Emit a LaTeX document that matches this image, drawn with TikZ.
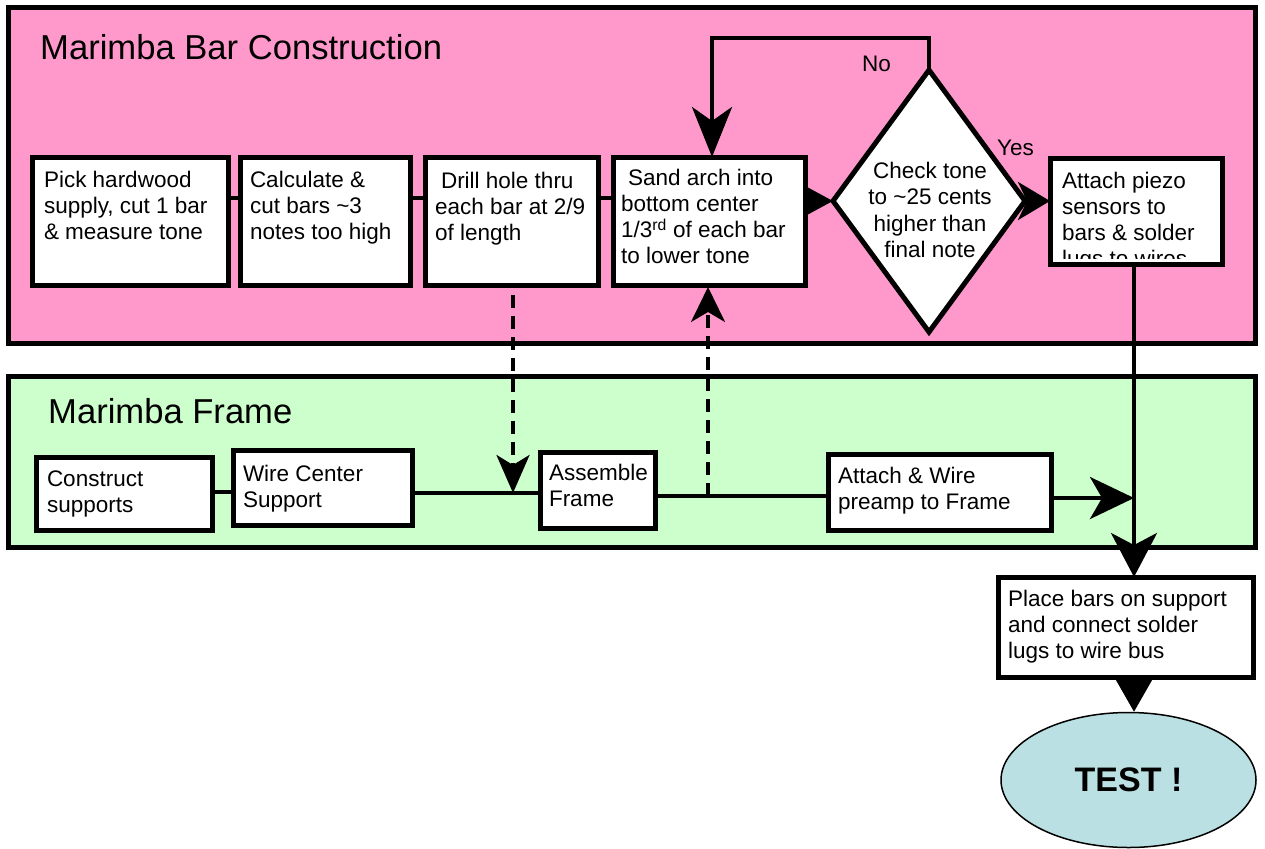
\documentclass[tikz,border=0pt]{standalone}
\usepackage{fontspec}
\setmainfont{Liberation Sans}
\usetikzlibrary{arrows.meta,shapes.geometric,calc}
\definecolor{pinkbg}{RGB}{255,153,204}
\definecolor{greenbg}{RGB}{204,255,204}
\definecolor{testblue}{RGB}{187,224,227}
\newcommand{\boxfont}{\fontsize{22.5}{26.3}\selectfont}
\newcommand{\titlefont}{\fontsize{34.6}{40}\selectfont}
% pad, box width, box height, first-baseline offset, text
\newcommand{\tb}[5]{\hspace*{#1pt}\parbox[c][#3pt][t]{\dimexpr #2pt-#1pt\relax}{\raggedright\rule{0pt}{#4pt}#5}}
\tikzset{
  stepbox/.style={draw, line width=5pt, fill=white, inner sep=0pt, outer sep=0pt, font=\boxfont},
  panel/.style={draw, line width=5pt},
  conn/.style={line width=4pt},
  dashconn/.style={line width=3.5pt, dash pattern=on 13pt off 8pt},
  lbl/.style={font=\boxfont, inner sep=0pt},
  ttl/.style={font=\titlefont, inner sep=0pt, anchor=base west},
}
\begin{document}
\begin{tikzpicture}[x=1pt, y=-1pt]
\useasboundingbox (0,0) rectangle (1265,848);
% panels
\draw[panel, fill=pinkbg] (8,8) rectangle (1255,343);
\draw[panel, fill=greenbg] (8,376) rectangle (1255,547);
\node[ttl] (t1) at (40,60) {Marimba Bar Construction};
\node[ttl] (t2) at (48,423) {Marimba Frame};
% bar construction boxes
\node[stepbox, minimum width=196pt, minimum height=128pt] (b1) at (130,221)
  {\tb{12}{196}{128}{30}{Pick hardwood\\supply, cut 1 bar\\\& measure tone}};
\node[stepbox, minimum width=170pt, minimum height=128pt] (b2) at (325,221)
  {\tb{10}{170}{128}{30}{Calculate \&\\cut bars \textasciitilde3\\notes too high}};
\node[stepbox, minimum width=173pt, minimum height=128pt] (b3) at (511.5,221)
  {\tb{10}{173}{128}{31}{\hspace*{6pt}Drill hole thru\\each bar at 2/9\\of length}};
\node[stepbox, minimum width=192pt, minimum height=128pt] (b4) at (709,221)
  {\tb{8}{192}{128}{28}{\hspace*{7pt}Sand arch into\\bottom center\\1/3\textsuperscript{rd} of each bar\\to lower tone}};
\node[draw, diamond, line width=5pt, fill=white, inner sep=0pt, outer sep=0pt,
  minimum width=192pt, minimum height=262pt] (d) at (929,201) {};
\node[font=\boxfont, align=center, inner sep=0pt] (dtext) at (930,210)
  {Check tone\\to \textasciitilde25 cents\\higher than\\final note};
\node[stepbox, minimum width=172pt, minimum height=106pt,
  path picture={\begin{scope}
    \clip ([yshift=5.5pt]path picture bounding box.south west) rectangle (path picture bounding box.north east);
    \node[anchor=north west, inner sep=0pt, font=\boxfont] (b5text)
    at ([xshift=1pt]path picture bounding box.north west)
    {\parbox[t]{150pt}{\raggedright\rule{0pt}{30pt}Attach piezo\\sensors to\\bars \& solder\\lugs to wires}};
    \end{scope}}]
  (b5) at (1136,211) {};
% frame boxes
\node[stepbox, minimum width=176pt, minimum height=73pt] (cs) at (124,493.5)
  {\tb{11}{176}{73}{29}{Construct\\supports}};
\node[stepbox, minimum width=179pt, minimum height=75pt] (wcs) at (322.5,487.5)
  {\tb{10}{179}{75}{31}{Wire Center\\Support}};
\node[stepbox, minimum width=115pt, minimum height=76pt] (af) at (597.5,490)
  {\tb{9}{115}{76}{28}{Assemble\\Frame}};
\node[stepbox, minimum width=223pt, minimum height=76pt] (aw) at (939.5,492)
  {\tb{10}{223}{76}{29}{Attach \& Wire\\preamp to Frame}};
\node[stepbox, minimum width=255pt, minimum height=100pt] (pb) at (1125.5,627)
  {\tb{10}{255}{100}{29}{Place bars on support\\and connect solder\\lugs to wire bus}};
\node[ellipse, draw, line width=1.5pt, fill=testblue, inner sep=0pt,
  minimum width=255pt, minimum height=135pt, font=\bfseries\fontsize{34}{40}\selectfont]
  (test) at (1128.5,780) {TEST !};
% labels
\node[lbl, anchor=base west] (nolbl) at (862,72) {No};
\node[lbl, anchor=base west] (yeslbl) at (997,155) {Yes};
% coordinates
\coordinate (rowY) at (0,198);
\coordinate (noTop) at (712,38);
\coordinate (vx) at (1134,0);
\coordinate (j1) at (513,493);
\coordinate (j2) at (708,496);
\coordinate (j3) at (1134,498);
\coordinate (fy1) at (0,492);
% bar connectors
\draw[conn] (b1.east |- rowY) -- (b2.west |- rowY);
\draw[conn] (b2.east |- rowY) -- (b3.west |- rowY);
\draw[conn] (b3.east |- rowY) -- (b4.west |- rowY);
\draw[conn, -{Triangle[length=27pt,width=28pt]}] (b4.east |- d.west) -- (d.west);
\draw[conn, -{Stealth[length=32pt,width=38pt,inset=9pt]}] (d.east) -- (b5.west |- d.east);
\draw[conn, -{Stealth[length=50pt,width=40pt,inset=14pt]}] (d.north) |- (noTop) -- (noTop |- b4.north);
% frame connectors
\draw[conn] (cs.east |- fy1) -- (wcs.west |- fy1);
\draw[conn] (wcs.east |- j1) -- (af.west |- j1);
\draw[conn] (af.east |- j2) -- (aw.west |- j2);
\draw[conn, -{Stealth[length=44pt,width=42pt,inset=12pt]}] (aw.east |- j3) -- (j3);
% dashed
\draw[dashconn, shorten <=10pt, -{Stealth[length=38pt,width=33pt,inset=10pt]}] (b3.south -| j1) -- (j1);
\draw[dashconn, shorten >=2pt, -{Stealth[length=35pt,width=34pt,inset=10pt]}] (j2) -- (j2 |- b4.south);
% down the right
\draw[conn, -{Stealth[length=44pt,width=46pt,inset=12pt]}] (vx |- b5.south) -- (vx |- pb.north);
\draw[conn, -{Triangle[length=36pt,width=40pt]}] (vx |- pb.south) -- (vx |- test.north);
\end{tikzpicture}
\end{document}
